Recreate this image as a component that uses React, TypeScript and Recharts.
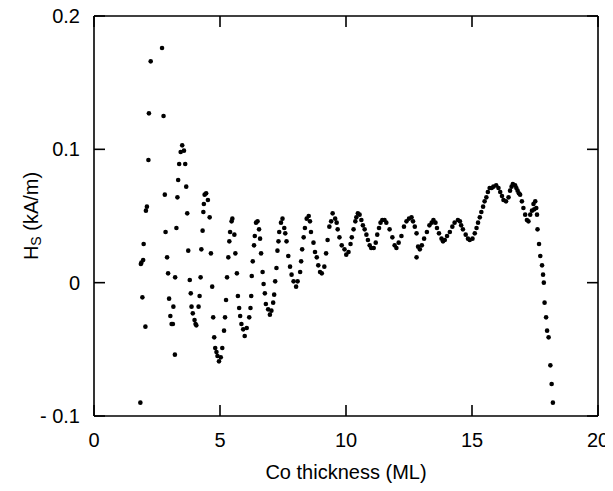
import { ScatterChart, Scatter, XAxis, YAxis, Label } from "recharts";

// Co thickness (ML)
const THICKNESS = [
  1.84, 1.86, 1.88, 1.92, 1.95, 1.97, 2.04, 2.06, 2.10, 2.16, 2.18, 2.25,
  2.70, 2.76, 2.81, 2.84, 2.90, 2.94, 2.98, 3.03, 3.08, 3.13, 3.15, 3.21, 3.22,
  3.27, 3.31, 3.34, 3.38, 3.44, 3.50, 3.57, 3.62, 3.66, 3.70, 3.74, 3.80, 3.84,
  3.87, 3.92, 3.99, 4.03, 4.06, 4.15, 4.19, 4.23, 4.26, 4.31, 4.34, 4.36, 4.39,
  4.45, 4.52, 4.59, 4.64, 4.69, 4.73, 4.77, 4.81, 4.86, 4.90, 4.96, 5.03, 5.09,
  5.16, 5.20, 5.24, 5.28, 5.33, 5.37, 5.40, 5.46, 5.49, 5.57, 5.61, 5.67, 5.71,
  5.76, 5.80, 5.85, 5.92, 5.98, 6.06, 6.16, 6.21, 6.24, 6.26, 6.30, 6.35, 6.38,
  6.43, 6.49, 6.55, 6.59, 6.63, 6.69, 6.73, 6.78, 6.82, 6.91, 6.98, 7.04, 7.11,
  7.15, 7.19, 7.24, 7.28, 7.32, 7.35, 7.42, 7.48, 7.55, 7.59, 7.64, 7.71, 7.78,
  7.84, 7.92, 8.02, 8.08, 8.18, 8.22, 8.26, 8.32, 8.37, 8.44, 8.52, 8.57, 8.61,
  8.71, 8.77, 8.84, 8.90, 8.97, 9.04, 9.14, 9.21, 9.27, 9.34, 9.41, 9.47, 9.57,
  9.63, 9.67, 9.74, 9.83, 9.94, 10.01, 10.10, 10.18, 10.23, 10.30, 10.37, 10.41,
  10.47, 10.54, 10.61, 10.67, 10.74, 10.81, 10.87, 10.94, 11.00, 11.10, 11.18,
  11.24, 11.31, 11.37, 11.44, 11.53, 11.60, 11.73, 11.84, 11.93, 12.00, 12.09,
  12.20, 12.30, 12.40, 12.50, 12.60, 12.66, 12.73, 12.80, 12.86, 12.80, 12.93,
  13.01, 13.10, 13.21, 13.31, 13.40, 13.47, 13.55, 13.61, 13.69, 13.79, 13.85,
  13.92, 14.01, 14.12, 14.22, 14.31, 14.44, 14.52, 14.57, 14.64, 14.75, 14.84,
  14.91, 15.02, 15.11, 15.18, 15.24, 15.31, 15.37, 15.44, 15.50, 15.57, 15.63,
  15.70, 15.78, 15.85, 15.96, 16.05, 16.12, 16.19, 16.25, 16.35, 16.45, 16.51,
  16.57, 16.62, 16.71, 16.76, 16.81, 16.86, 16.91, 16.98, 17.04, 17.11, 17.18,
  17.24, 17.31, 17.38, 17.44, 17.47, 17.51, 17.55, 17.58, 17.60, 17.66, 17.71,
  17.78, 17.82, 17.85, 17.88, 17.94, 17.98, 18.04, 18.11, 18.16, 18.21,
];

// Hs (kA/m)
const HS = [
  -0.090, 0.014, 0.015, -0.011, 0.017, 0.029, -0.033, 0.054, 0.057, 0.092, 0.127, 0.166,
  0.176, 0.125, 0.066, 0.038, 0.019, 0.007, -0.012, -0.025, -0.031, -0.031, -0.018, -0.054, 0.004,
  0.041, 0.064, 0.077, 0.089, 0.098, 0.103, 0.099, 0.089, 0.072, 0.052, 0.024, 0.002, -0.008,
  -0.018, -0.023, -0.028, -0.031, -0.032, -0.018, -0.010, 0.004, 0.025, 0.039, 0.053, 0.059, 0.066,
  0.067, 0.062, 0.049, 0.022, -0.003, -0.026, -0.041, -0.049, -0.052, -0.055, -0.059, -0.056, -0.049,
  -0.036, -0.026, -0.013, 0.004, 0.019, 0.031, 0.038, 0.046, 0.048, 0.036, 0.022, 0.007, -0.010,
  -0.019, -0.025, -0.031, -0.035, -0.040, -0.034, -0.026, -0.019, -0.010, 0.005, 0.016, 0.028, 0.035,
  0.045, 0.046, 0.040, 0.033, 0.022, 0.008, -0.001, -0.008, -0.016, -0.020, -0.024, -0.021, -0.015,
  -0.009, 0.001, 0.011, 0.024, 0.031, 0.038, 0.045, 0.048, 0.041, 0.037, 0.031, 0.020, 0.012,
  0.006, 0.001, -0.003, 0.001, 0.008, 0.016, 0.025, 0.034, 0.041, 0.048, 0.050, 0.046, 0.038,
  0.030, 0.023, 0.019, 0.013, 0.008, 0.007, 0.012, 0.022, 0.032, 0.042, 0.046, 0.052, 0.048,
  0.045, 0.040, 0.034, 0.028, 0.025, 0.021, 0.023, 0.029, 0.034, 0.040, 0.046, 0.049,
  0.052, 0.051, 0.047, 0.043, 0.040, 0.036, 0.032, 0.028, 0.026, 0.026, 0.030,
  0.036, 0.041, 0.045, 0.047, 0.047, 0.045, 0.040, 0.034, 0.028, 0.026, 0.030,
  0.035, 0.042, 0.046, 0.048, 0.049, 0.046, 0.042, 0.037, 0.027, 0.019, 0.025,
  0.028, 0.033, 0.038, 0.043, 0.045, 0.047, 0.045, 0.041, 0.037, 0.033, 0.031,
  0.032, 0.035, 0.038, 0.042, 0.045, 0.047, 0.046, 0.043, 0.040, 0.036, 0.033,
  0.032, 0.033, 0.037, 0.041, 0.045, 0.049, 0.053, 0.057, 0.061, 0.064, 0.068,
  0.071, 0.071, 0.072, 0.073, 0.071, 0.068, 0.065, 0.062, 0.061, 0.064, 0.069,
  0.072, 0.074, 0.073, 0.071, 0.069, 0.067, 0.066, 0.061, 0.056, 0.051, 0.047,
  0.046, 0.051, 0.054, 0.059, 0.055, 0.061, 0.056, 0.051, 0.040, 0.029, 0.020,
  0.013, 0.006, 0.000, -0.015, -0.026, -0.036, -0.041, -0.062, -0.076, -0.090,
];

const X_TICKS = [0, 5, 10, 15, 20];
const Y_TICKS = [-0.1, 0, 0.1, 0.2];

const data = THICKNESS.map((x, i) => ({ x, y: HS[i] }));

const W = 613;
const H = 491;
const M = { top: 16, right: 15, bottom: 75, left: 94 };
const PLOT_W = W - M.left - M.right;
const PLOT_H = H - M.top - M.bottom;

const FONT = "'Liberation Sans', Arial, Helvetica, sans-serif";
const TICK_LEN = 11;
const BOTTOM_GAP = 17;
const LEFT_GAP = 14;
const fmtY = (v: number) => (v < 0 ? "- " + Math.abs(v) : String(v));

// inward tick marks on both sides of the frame, drawn with the labels
function BottomTick(p: any) {
  const y0 = p.y - BOTTOM_GAP;
  const yTop = y0 - PLOT_H;
  return (
    <g>
      <line x1={p.x} x2={p.x} y1={y0} y2={y0 - TICK_LEN} stroke="#000" strokeWidth={1.6} />
      <line x1={p.x} x2={p.x} y1={yTop} y2={yTop + TICK_LEN} stroke="#000" strokeWidth={1.6} />
      <text x={p.x} y={p.y} dy="0.71em" textAnchor="middle" fontSize={20} fontFamily={FONT} fill="#000">
        {p.payload.value}
      </text>
    </g>
  );
}

function LeftTick(p: any) {
  const x0 = p.x + LEFT_GAP;
  const xRight = x0 + PLOT_W;
  return (
    <g>
      <line x1={x0} x2={x0 + TICK_LEN} y1={p.y} y2={p.y} stroke="#000" strokeWidth={1.6} />
      <line x1={xRight} x2={xRight - TICK_LEN} y1={p.y} y2={p.y} stroke="#000" strokeWidth={1.6} />
      <text x={p.x} y={p.y} dy="0.355em" textAnchor="end" fontSize={20} fontFamily={FONT} fill="#000">
        {fmtY(p.payload.value)}
      </text>
    </g>
  );
}

function YTitle(props: any) {
  const vb = props.viewBox || { x: 0, y: M.top, width: M.left, height: PLOT_H };
  const cx = vb.x + 31;
  const cy = vb.y + vb.height / 2;
  return (
    <text
      x={cx}
      y={cy}
      transform={`rotate(-90 ${cx} ${cy})`}
      textAnchor="middle"
      fontSize={20}
      fontFamily={FONT}
      fill="#000"
      dy={7}
    >
      H<tspan fontSize={14} dy={3}>S</tspan>
      <tspan dy={-3}> (kA/m)</tspan>
    </text>
  );
}

const Dot = (p: any) => <circle cx={p.cx} cy={p.cy} r={2.3} fill="#000" />;

export default function App() {
  return (
    <div style={{ margin: "-8px 0 0 -8px" }}>
      <ScatterChart
        width={W}
        height={H}
        margin={{ top: M.top - 1, right: M.right - 1, bottom: 0, left: 0 }}
        style={{ background: "#fff" }}
      >
        <XAxis
          dataKey="x"
          type="number"
          domain={[0, 20]}
          ticks={X_TICKS}
          height={M.bottom}
          stroke="#000"
          strokeWidth={1.6}
          tickSize={0}
          tickLine={false}
          tickMargin={BOTTOM_GAP}
          tick={BottomTick}
          interval={0}
        >
          <Label
            value="Co thickness (ML)"
            position="insideBottom"
            offset={12}
            style={{ fill: "#000", fontSize: 20, fontFamily: FONT }}
          />
        </XAxis>
        <XAxis
          xAxisId="top"
          orientation="top"
          type="number"
          domain={[0, 20]}
          height={1}
          stroke="#000"
          strokeWidth={1.6}
          tick={false}
          tickLine={false}
        />
        <YAxis
          dataKey="y"
          type="number"
          domain={[-0.1, 0.2]}
          ticks={Y_TICKS}
          width={M.left}
          stroke="#000"
          strokeWidth={1.6}
          tickSize={0}
          tickLine={false}
          tickMargin={LEFT_GAP}
          tick={LeftTick}
          interval={0}
        >
          <Label content={YTitle} />
        </YAxis>
        <YAxis
          yAxisId="right"
          orientation="right"
          type="number"
          domain={[-0.1, 0.2]}
          width={1}
          stroke="#000"
          strokeWidth={1.6}
          tick={false}
          tickLine={false}
        />
        <Scatter data={data} fill="#000" shape={Dot} isAnimationActive={false} />
      </ScatterChart>
    </div>
  );
}
